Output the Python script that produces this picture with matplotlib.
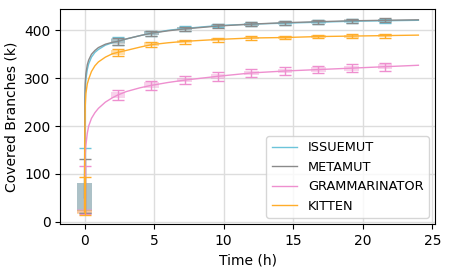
import numpy as np
import matplotlib.pyplot as plt

# --- curves (k branches) ---
t = [0, 0.02, 0.05, 0.1, 0.2, 0.3, 0.5, 0.75, 1.0, 1.5, 2.0, 2.4, 3.0, 4.0,
     4.8, 6.0, 7.2, 8.4, 9.6, 12, 14.4, 16.8, 19.2, 21.6, 24]

issuemut = [50, 200, 270, 298, 318, 330, 344, 354, 360, 369, 374, 377, 382, 389,
            394, 400, 404, 407, 410, 413, 415, 417, 419, 420, 421]
metamut = [50, 240, 290, 310, 328, 338, 350, 358, 364, 371, 375, 377, 382, 389,
           394, 399, 403, 406, 409, 413, 416, 418, 420, 421, 422]
grammarinator = [22, 100, 140, 160, 185, 200, 216, 228, 237, 250, 259, 265, 272, 280,
                 285, 291, 296, 300, 304, 311, 315, 318, 321, 324, 327]
kitten = [20, 180, 240, 268, 288, 298, 314, 326, 334, 344, 351, 354, 358, 365,
          370, 374, 377, 379, 381, 384, 385, 387, 388, 389, 390]

# --- sampled points: mean, whisker ends, box ends ---
ts = [0, 2.4, 4.8, 7.2, 9.6, 12, 14.4, 16.8, 19.2, 21.6]
mean_issue = [52, 378, 394, 404, 410, 413, 415, 417, 419, 420]
mean_meta = [52, 377, 394, 403, 409, 413, 416, 418, 420, 421]
mean_gram = [22, 265, 285, 296, 304, 311, 315, 318, 321, 324]
mean_kit = [20, 354, 371, 376, 380, 384, 385, 387, 388, 389]

# whisker half-spans (first entry: absolute low / high)
whi_issue = [(18, 155), 8, 5, 5, 4, 4, 4, 4, 4, 4]
whi_meta = [(18, 132), 8, 5, 5, 4, 4, 4, 4, 4, 4]
whi_gram = [(17, 117), 10, 10, 9, 9, 8, 8, 8, 8, 8]
whi_kit = [(14, 94), 7, 5, 4, 4, 4, 4, 4, 4, 4]

# box half-heights (first entry: absolute low / high)
box_issue = [(22, 82), 5, 4, 3, 3, 3, 3, 3, 3, 3]
box_meta = [(22, 82), 5, 4, 3, 3, 3, 3, 3, 3, 3]
box_gram = [(18, 26), 6, 6, 5, 5, 5, 5, 5, 5, 5]
box_kit = [(16, 24), 5, 4, 3, 3, 3, 3, 3, 3, 3]

series = [
    ('ISSUEMUT', '#6cc4da', issuemut, mean_issue, whi_issue, box_issue),
    ('METAMUT', '#8a8a8a', metamut, mean_meta, whi_meta, box_meta),
    ('GRAMMARINATOR', '#ee8fcf', grammarinator, mean_gram, whi_gram, box_gram),
    ('KITTEN', '#ffad2a', kitten, mean_kit, whi_kit, box_kit),
]


def spans(m, spec):
    lo, hi = [], []
    for v, s in zip(m, spec):
        if isinstance(s, tuple):
            lo.append(s[0]); hi.append(s[1])
        else:
            lo.append(v - s); hi.append(v + s)
    return np.array(lo, float), np.array(hi, float)


fig = plt.figure(figsize=(4.49, 2.73), dpi=100)
ax = fig.add_axes([0.134, 0.179, 0.835, 0.787])

for name, c, curve, m, whi, box in series:
    m = np.array(m, float)
    wlo, whi_ = spans(m, whi)
    blo, bhi = spans(m, box)
    ax.plot(t, curve, color=c, lw=1.0, label=name)
    ax.bar(ts, bhi - blo, bottom=blo, width=1.05, color=c, alpha=0.4, lw=0)
    ax.errorbar(ts, m, yerr=[m - wlo, whi_ - m], fmt='none', ecolor=c,
                elinewidth=1.0, capsize=4, capthick=1.0)

ax.set_xlim(-1.75, 25.2)
ax.set_ylim(-5, 444)
ax.set_xticks([0, 5, 10, 15, 20, 25])
ax.set_yticks([0, 100, 200, 300, 400])
ax.tick_params(labelsize=10)
ax.set_xlabel('Time (h)', fontsize=10)
ax.set_ylabel('Covered Branches (k)', fontsize=10)
ax.grid(True, color='#dddddd', lw=1.0)
ax.set_axisbelow(True)
ax.legend(loc='lower right', fontsize=9.3, framealpha=0.8)

plt.savefig('out.png', dpi=100)
